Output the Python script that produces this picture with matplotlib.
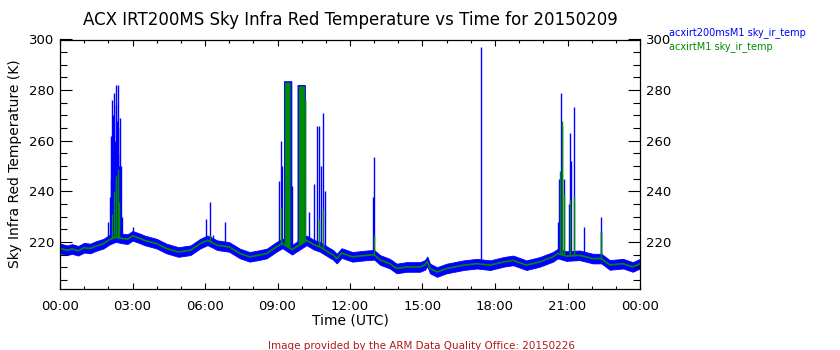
import numpy as np
import matplotlib
matplotlib.use("Agg")
import matplotlib.pyplot as plt

# Background sky temperature (K) through the day, hours UTC
hours = [0.0, 0.3, 0.5, 0.75, 1.0, 1.25, 1.5, 1.8, 2.05, 2.3, 2.6, 2.8, 3.0,
         3.3, 3.5, 4.0, 4.4, 4.9, 5.4, 5.8, 6.1, 6.3, 6.5, 7.0, 7.45, 7.85,
         8.2, 8.55, 8.95, 9.2, 9.6, 10.2, 10.5, 10.76, 11.1, 11.3, 11.45,
         11.65, 12.1, 12.7, 13.0, 13.24, 13.65, 13.93, 14.34, 14.9, 15.1,
         15.2, 15.31, 15.6, 16.0, 16.7, 17.25, 17.8, 18.35, 18.75, 19.3,
         19.85, 20.4, 20.6, 20.95, 21.5, 22.05, 22.4, 22.75, 23.3, 23.7, 24.0]
sky_temp = [217.5, 216.8, 217.3, 216.6, 217.8, 217.5, 218.5, 219.4, 221.0,
            222.0, 221.4, 221.2, 222.5, 221.5, 220.7, 219.4, 217.5, 216.1,
            216.8, 219.4, 220.7, 219.8, 218.8, 218.1, 215.5, 214.2, 214.8,
            215.5, 218.1, 219.5, 217.0, 220.7, 219.0, 218.1, 216.1, 215.0,
            213.5, 215.7, 214.2, 214.8, 215.0, 213.0, 211.5, 209.6, 210.2,
            210.2, 211.0, 212.4, 209.6, 208.2, 209.6, 210.9, 211.5, 210.9,
            212.2, 212.8, 210.9, 212.2, 214.2, 215.5, 214.5, 214.8, 213.5,
            213.5, 211.0, 211.5, 210.2, 211.5]
# spread of the high-rate (blue) instrument around the background
band_halfwidth = 1.9

# short cloud spikes
blue_spike_hours = [2.00, 2.08, 2.10, 2.12, 2.15, 2.17, 2.20, 2.22, 2.25, 2.28,
                    2.30, 2.33, 2.35, 2.36, 2.38, 2.40, 2.42, 2.45, 2.47, 2.52,
                    2.58, 3.0, 6.05, 6.2, 6.35, 6.83, 9.05, 9.14, 9.2, 9.62,
                    10.14, 10.3, 10.52, 10.65, 10.72, 10.78, 10.9, 10.95,
                    12.95, 12.99, 17.43, 20.6, 20.66, 20.74, 20.78, 20.87,
                    21.07, 21.11, 21.15, 21.28, 21.69, 22.37, 22.4]
blue_spike_peaks = [228, 238, 245, 262, 250, 276, 270, 258, 279, 260,
                    274, 282, 262, 268, 282, 255, 265, 250, 269, 250,
                    230, 226, 229, 236, 223, 228, 244, 260, 250, 242,
                    276, 232, 243, 266, 266, 250, 271, 240,
                    238, 253.7, 297, 228, 245, 278.7, 266, 245,
                    235, 263, 252, 273.4, 226, 224, 230]
green_spike_hours = [2.15, 2.25, 2.30, 2.33, 2.38, 2.45, 6.2, 9.14, 10.14,
                     10.72, 10.9, 12.99, 20.7, 20.77, 20.87, 21.12, 21.28, 22.4]
green_spike_peaks = [231, 240, 244, 246, 249, 236, 223, 234, 276,
                     229, 233, 223, 248, 268, 239, 237, 238, 224]

# extended overcast periods
blue_cloud_start = [9.27, 9.83]
blue_cloud_end = [9.57, 10.13]
blue_cloud_top = [283.5, 282.0]
green_cloud_start = [9.30, 9.88]
green_cloud_end = [9.50, 10.10]
green_cloud_top = [283.0, 281.5]

x_tick_hours = [0, 3, 6, 9, 12, 15, 18, 21, 24]
x_tick_labels = ["00:00", "03:00", "06:00", "09:00", "12:00", "15:00",
                 "18:00", "21:00", "00:00"]
y_ticks = [220, 240, 260, 280, 300]

BLUE = "#0000ff"
GREEN = "#008c00"

W, H = 840, 350
fig = plt.figure(figsize=(W / 100, H / 100), dpi=100)
ax = fig.add_axes([60 / W, 1 - 289 / H, 580 / W, (289 - 39.5) / H])

t = np.asarray(hours)
v = np.asarray(sky_temp)

# blue instrument: noisy band + spikes + cloud blocks
ax.fill_between(t, v - band_halfwidth, v + band_halfwidth, color=BLUE, lw=0.6,
                edgecolor=BLUE)
bs_h = np.asarray(blue_spike_hours)
ax.vlines(bs_h, np.interp(bs_h, t, v), blue_spike_peaks, colors=BLUE, lw=1.0)
for s, e, top in zip(blue_cloud_start, blue_cloud_end, blue_cloud_top):
    seg = np.array([s, e])
    ax.fill_between(seg, np.interp(seg, t, v), [top, top], color=BLUE, lw=0.8,
                    edgecolor=BLUE)

# green instrument
ax.plot(t, v, color=GREEN, lw=1.2, solid_joinstyle="miter")
gs_h = np.asarray(green_spike_hours)
ax.vlines(gs_h, np.interp(gs_h, t, v), green_spike_peaks, colors=GREEN, lw=1.0)
for s, e, top in zip(green_cloud_start, green_cloud_end, green_cloud_top):
    seg = np.array([s, e])
    ax.fill_between(seg, np.interp(seg, t, v), [top, top], color=GREEN, lw=0.6,
                    edgecolor=GREEN)

ax.set_xlim(0, 24)
ax.set_ylim(201.5, 300)
ax.set_xticks(x_tick_hours)
ax.set_xticklabels(x_tick_labels)
ax.set_xticks(np.arange(0, 25, 1), minor=True)
ax.set_yticks(y_ticks)
ax.set_yticks(np.arange(205, 301, 5), minor=True)

ax.tick_params(axis="both", which="both", direction="in", top=True,
               right=True, labelright=True, width=0.8, labelsize=9.5,
               colors="black")
ax.tick_params(axis="y", which="major", length=8.5, pad=4)
ax.tick_params(axis="y", which="minor", length=5)
ax.tick_params(axis="x", which="major", length=4, pad=8)
ax.tick_params(axis="x", which="minor", length=2.5)
for sp in ax.spines.values():
    sp.set_linewidth(0.9)

fig.text(350 / W, 1 - 20 / H,
         "ACX IRT200MS Sky Infra Red Temperature vs Time for 20150209",
         ha="center", va="center", fontsize=12)
fig.text(350 / W, 1 - 320 / H, "Time (UTC)", ha="center", va="center",
         fontsize=10)
fig.text(15 / W, 1 - 164 / H, "Sky Infra Red Temperature (K)", ha="center",
         va="center", rotation=90, fontsize=10)
fig.text(669 / W, 1 - 33 / H, "acxirt200msM1 sky_ir_temp", ha="left",
         va="center", fontsize=7, color=BLUE)
fig.text(669 / W, 1 - 47 / H, "acxirtM1 sky_ir_temp", ha="left",
         va="center", fontsize=7, color=GREEN)
fig.text(421 / W, 1 - 346 / H,
         "Image provided by the ARM Data Quality Office: 20150226",
         ha="center", va="center", fontsize=7.5, color="#b01818")

fig.savefig("out.png", dpi=100)
